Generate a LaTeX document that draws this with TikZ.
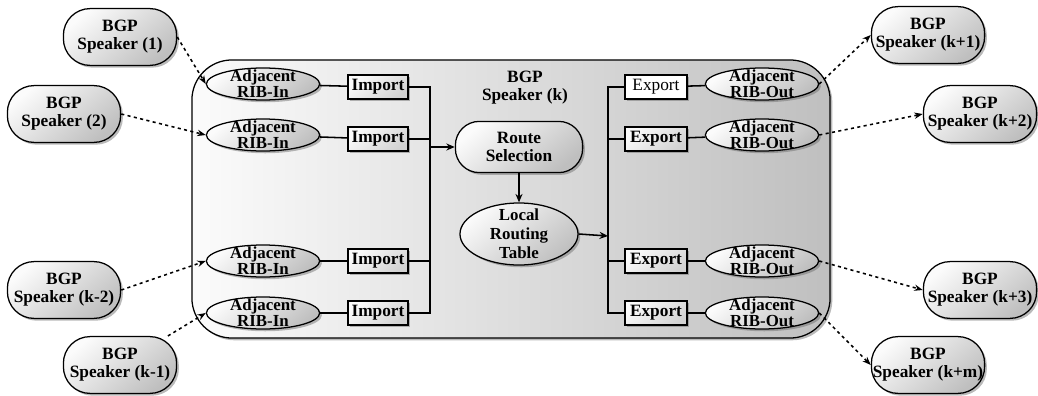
\documentclass[tikz,border=0pt]{standalone}
\usepackage{fontspec}
\setmainfont{Liberation Serif}
\usetikzlibrary{arrows.meta,shapes.geometric,shadows}

\begin{document}
\begin{tikzpicture}[x=0.025cm, y=-0.025cm,
  every node/.style={align=center, font=\bfseries\fontsize{12.3}{12.8}\selectfont},
  mysh/.style={drop shadow={shadow xshift=1.6pt, shadow yshift=-1.6pt, fill=black!60, opacity=0.45}},
  greyfill/.style={top color=gray!3, bottom color=gray!50, shading angle=40},
  speaker/.style={draw, line width=0.9pt, rounded corners=19pt, minimum width=2.83cm, minimum height=1.42cm, inner sep=1pt, greyfill, mysh},
  rib/.style={ellipse, draw, line width=0.9pt, minimum width=2.83cm, minimum height=0.8cm, inner sep=0pt, greyfill, mysh,
    label={[font=\bfseries\fontsize{12}{11.4}\selectfont]center:#1}},
  filter/.style={draw, line width=0.9pt, minimum width=1.5cm, minimum height=0.6cm, inner sep=1pt, top color=gray!3, bottom color=gray!35, shading angle=40, mysh},
  conn/.style={line width=1.1pt},
  peer/.style={line width=1.1pt, dash pattern=on 2.2pt off 2.4pt, -{Stealth[length=6pt, width=4.5pt]}}
]
\useasboundingbox (0,0) rectangle (1038,395);

% the speaker under study
\node[draw, line width=0.9pt, rounded corners=1cm, minimum width=15.95cm, minimum height=6.95cm,
  left color=gray!3, right color=gray!50, mysh] at (511,199) (spk) {};
\node at (525,88) (klabel) {BGP\\Speaker (k)};

% peers
\node[speaker] at (120,37) (s1) {BGP\\Speaker (1)};
\node[speaker] at (64,114) (s2) {BGP\\Speaker (2)};
\node[speaker] at (64,290) (sk2) {BGP\\Speaker (k-2)};
\node[speaker] at (120,365) (sk1) {BGP\\Speaker (k-1)};
\node[speaker] at (928,35) (sp1) {BGP\\Speaker (k+1)};
\node[speaker] at (980,114) (sp2) {BGP\\Speaker (k+2)};
\node[speaker] at (980,290) (sp3) {BGP\\Speaker (k+3)};
\node[speaker] at (928,365) (spm) {BGP\\Speaker (k+m)};

% input side
\node[rib={Adjacent\\RIB-In}] at (263,84) (in1) {};
\node[rib={Adjacent\\RIB-In}] at (263,135) (in2) {};
\node[rib={Adjacent\\RIB-In}] at (263,261) (in3) {};
\node[rib={Adjacent\\RIB-In}] at (263,313) (in4) {};
\node[filter] at (378,87) (imp1) {Import};
\node[filter] at (378,139) (imp2) {Import};
\node[filter] at (378,261) (imp3) {Import};
\node[filter] at (378,313) (imp4) {Import};

% decision process
\node[draw, line width=0.9pt, rounded corners=17pt, minimum width=3.18cm, minimum height=1.28cm, inner sep=1pt, greyfill, mysh] at (519,147) (route) {Route\\Selection};
\node[ellipse, draw, line width=0.9pt, minimum width=2.95cm, minimum height=1.55cm, inner sep=0pt, greyfill, mysh,
  label={[font=\bfseries\fontsize{12}{13.6}\selectfont]center:Local\\Routing\\Table}] at (519,234) (lrt) {};

% output side
\node[draw, line width=0.9pt, fill=white, minimum width=1.55cm, minimum height=0.6cm, inner sep=1pt, mysh, font=\fontsize{12.3}{12.8}\selectfont] at (656,87) (exp1) {Export};
\node[filter, minimum width=1.55cm] at (656,139) (exp2) {Export};
\node[filter, minimum width=1.55cm] at (656,261) (exp3) {Export};
\node[filter, minimum width=1.55cm] at (656,313) (exp4) {Export};
\node[rib={Adjacent\\RIB-Out}] at (762,84) (out1) {};
\node[rib={Adjacent\\RIB-Out}] at (762,135) (out2) {};
\node[rib={Adjacent\\RIB-Out}] at (762,261) (out3) {};
\node[rib={Adjacent\\RIB-Out}] at (762,313) (out4) {};

\coordinate (busL) at (430,147);
\coordinate (busR) at (608,236);

% internal flow
\foreach \i in {1,...,4} {
  \draw[conn] (in\i) -- (imp\i);
  \draw[conn] (exp\i) -- (out\i);
}
\draw[conn] (imp1.east) -| (busL);
\draw[conn] (imp4.east) -| (busL);
\draw[conn] (imp2.east) -- (imp2.east -| busL);
\draw[conn] (imp3.east) -- (imp3.east -| busL);
\draw[conn, -{Stealth[length=6pt, width=5pt]}] (busL) -- (route.west);
\draw[conn, -{Stealth[length=6pt, width=5pt]}] (route.south) -- (lrt.north);
\draw[conn, -{Stealth[length=6pt, width=5pt]}] (lrt.east) -- (busR);
\draw[conn] (busR) |- (exp1.west);
\draw[conn] (busR) |- (exp4.west);
\draw[conn] (exp2.west -| busR) -- (exp2.west);
\draw[conn] (exp3.west -| busR) -- (exp3.west);

% sessions with peers
\draw[peer] (s1.east) -- (in1.west);
\draw[peer] (s2.east) -- (in2.west);
\draw[peer] (sk2.east) -- (in3.west);
\draw[peer] (sk1) -- (in4.west);
\draw[peer] (out1.east) -- (sp1.west);
\draw[peer] (out2.east) -- (sp2.west);
\draw[peer] (out3.east) -- (sp3.west);
\draw[peer] (out4.east) -- (spm.west);
\end{tikzpicture}
\end{document}
